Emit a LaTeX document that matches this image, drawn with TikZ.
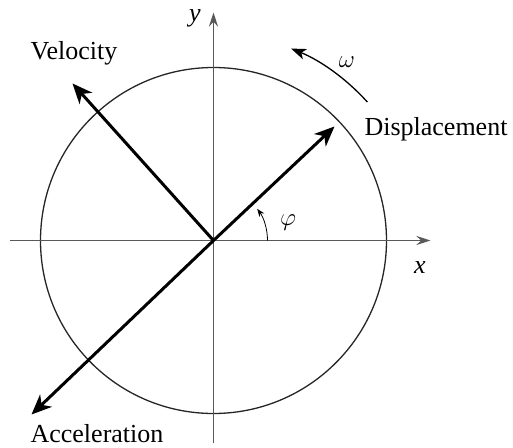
\documentclass[tikz,border=0pt]{standalone}
\usepackage{fontspec}
\setmainfont{Liberation Serif}
\usetikzlibrary{arrows.meta}

\begin{document}
\begin{tikzpicture}[
        x = 1pt, y = 1pt,
        axis/.style = {line width = 1.3pt, black!65, -{Stealth[length = 14pt, width = 9pt]}},
        vec/.style = {line width = 3pt, -{Stealth[length = 20pt, width = 17pt, inset = 6pt]}},
        turn/.style = {line width = 1.3pt, -{Stealth[length = 15pt, width = 11pt, inset = 4pt]}},
        lab/.style = {font = \fontsize{26}{30}\selectfont, inner sep = 0pt}
    ]
        \useasboundingbox (-213.5, -206.5) rectangle (299.5, 240.5);

        \coordinate (O) at (0, 0);
        \coordinate (xl) at (-203, 0);
        \coordinate (xr) at (217, 0);
        \coordinate (yb) at (0, -202);
        \coordinate (yt) at (0, 228);

        \draw[line width = 1.3pt, black!85] (O) circle[radius = 173];
        \draw[axis] (xl) -- (xr);
        \draw[axis] (yb) -- (yt);

        \coordinate (dis) at (121, 114);
        \coordinate (vel) at (-141, 157);
        \coordinate (acc) at (-182, -174);

        \draw[vec] (O) -- (dis);
        \draw[vec] (O) -- (vel);
        \draw[vec] (O) -- (acc);

        \draw[turn] (42:207) arc[start angle = 42, end angle = 68, radius = 207];
        \draw[line width = 0.8pt, -{Stealth[length = 8pt, width = 6pt]}] (54, 0) arc[start angle = 0, end angle = 36, radius = 54];

        \node[lab] (ylab) at (-18.5, 222.5) {\textit{y}};
        \node[lab] (xlab) at (206.5, -27.5) {\textit{x}};
        \node[lab] (dlab) at (222.5, 111.5) {Displacement};
        \node[lab] (vlab) at (-139.5, 187.5) {Velocity};
        \node[lab] (alab) at (-116.5, -193) {Acceleration};
        \node[lab] (wlab) at (133.5, 178.5) {$\omega$};
        \node[lab] (plab) at (74.5, 17.5) {$\varphi$};
    \end{tikzpicture}
\end{document}
